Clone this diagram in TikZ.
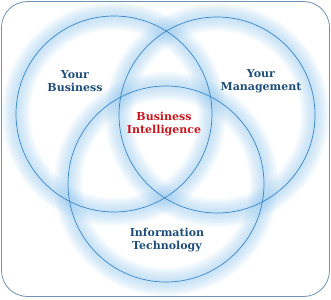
\documentclass[tikz,border=0pt]{standalone}
\usepackage{fontspec}
\setmainfont{DejaVu Serif}
\usetikzlibrary{positioning}

\definecolor{ringblue}{HTML}{3C86C6}
\definecolor{glowblue}{HTML}{8EC4EC}
\definecolor{textblue}{HTML}{1E4F7C}
\definecolor{textred}{HTML}{C8161D}
\definecolor{framegray}{HTML}{6E93B5}

\tikzset{
  ring/.style={circle,draw=ringblue,line width=0.7pt,minimum size=196pt,inner sep=0pt},
  lbl/.style={font=\bfseries\fontsize{11}{12.5}\selectfont,text=textblue,align=center}
}

\begin{document}
\begin{tikzpicture}[x=1pt,y=-1pt]
    \useasboundingbox (0,0) rectangle (331,299);
    \draw[framegray,line width=0.8pt,rounded corners=26pt] (1.5,1.5) rectangle (329.5,296.5);

    \newcommand{\BizX}{114}
    \newcommand{\BizY}{114}
    \newcommand{\MgmtX}{217}
    \newcommand{\MgmtY}{115}
    \newcommand{\TechX}{166}
    \newcommand{\TechY}{184}

    \coordinate (bizc) at (\BizX,\BizY);
    \coordinate (mgmtc) at (\MgmtX,\MgmtY);
    \coordinate (techc) at (\TechX,\TechY);

    \foreach \c in {bizc,mgmtc,techc}
      \foreach \w in {28,24,20,16,12,8,4}
        \draw[glowblue,draw opacity=0.09,line width=\w pt] (\c) circle[radius=98pt];

    \node[ring] (biz) at (bizc) {};
    \node[ring] (mgmt) at (mgmtc) {};
    \node[ring] (tech) at (techc) {};

    \node[lbl] (bizlbl) at (75,81) {Your\\Business};
    \node[lbl] (mgmtlbl) at (261,81) {Your\\Management};
    \node[lbl,text=textred] (bilbl) at (164,124) {Business\\Intelligence};
    \node[lbl] (techlbl) at (167,240) {Information\\Technology};

\end{tikzpicture}
\end{document}
